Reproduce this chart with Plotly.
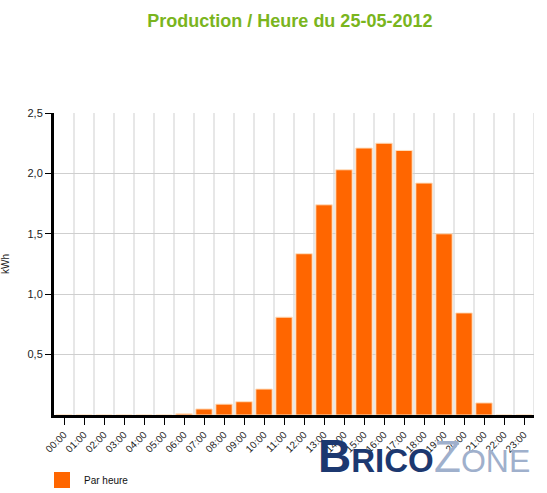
import plotly.graph_objects as go

hours = [f"{h:02d}:00" for h in range(24)]
values = [0, 0, 0, 0, 0, 0, 0.01, 0.05, 0.09, 0.11, 0.215, 0.81, 1.335, 1.74,
          2.03, 2.21, 2.25, 2.19, 1.92, 1.50, 0.845, 0.10, 0, 0]
ytick_vals = [0.5, 1.0, 1.5, 2.0, 2.5]
ytick_text = ["0,5", "1,0", "1,5", "2,0", "2,5"]
series_name = "Par heure"
bar_color = "#ff6600"

fig = go.Figure()
fig.add_trace(go.Bar(
    x=hours, y=values, name=series_name,
    marker=dict(color=bar_color, line=dict(color="#ffe0c0", width=1)),
    width=0.82, showlegend=False,
))

fig.update_layout(
    width=547, height=493,
    margin=dict(l=54, r=13, t=113, b=78),
    paper_bgcolor="white", plot_bgcolor="white",
    font=dict(family="Liberation Sans, Arial, sans-serif", color="#222", size=10),
    title=dict(text="<b>Production / Heure du 25-05-2012</b>",
               x=0.53, xanchor="center", y=0.957, yanchor="middle",
               font=dict(size=18, color="#7ab51d", family="Liberation Sans, Arial, sans-serif")),
    showlegend=False,
)
fig.update_xaxes(
    type="category", range=[-0.5, 23.5], automargin=False,
    showgrid=False, tickangle=-45, ticks="outside", ticklen=7, tickwidth=1,
    tickcolor="#000", showline=True, linecolor="#000", linewidth=3,
    tickfont=dict(size=10, color="#222"),
)
fig.update_yaxes(
    range=[0, 2.5], tickvals=ytick_vals, ticktext=ytick_text, automargin=False,
    showgrid=True, gridcolor="#cfcfcf", gridwidth=1,
    ticks="outside", ticklen=6, tickcolor="#000",
    showline=True, linecolor="#000", linewidth=3, zeroline=False,
    tickfont=dict(size=11, color="#222"),
    title=dict(text="kWh", font=dict(size=10, color="#222"), standoff=18),
)
# vertical gridlines at category boundaries
for i in range(24):
    fig.add_shape(type="line", xref="x", yref="paper", x0=i + 0.5, x1=i + 0.5,
                  y0=0, y1=1, line=dict(color="#cfcfcf", width=1), layer="below")

# legend (drawn manually so it does not push the plot margins)
fig.add_shape(type="rect", xref="paper", yref="paper",
              x0=0.0, x1=16 / 480, y0=-57 / 302, y1=-73 / 302,
              fillcolor=bar_color, line=dict(width=0))
fig.add_annotation(xref="paper", yref="paper", x=28 / 480, y=-65 / 302,
                   xanchor="left", yanchor="middle", showarrow=False,
                   text=series_name, font=dict(size=10, color="#111"))

# watermark
fig.add_annotation(xref="paper", yref="paper", x=0.546, y=-0.136, xanchor="left", yanchor="middle",
                   text="<b>B<span style='font-size:33px'>RICO</span></b>", showarrow=False,
                   font=dict(size=46, color="#1c3870", family="Liberation Sans, Arial"))
fig.add_annotation(xref="paper", yref="paper", x=0.787, y=-0.136, xanchor="left", yanchor="middle",
                   text="Z<span style='font-size:32px'>ONE</span>", showarrow=False,
                   font=dict(size=44, color="#9fb0cc", family="Liberation Sans, Arial"))

fig.write_html("out.html")
